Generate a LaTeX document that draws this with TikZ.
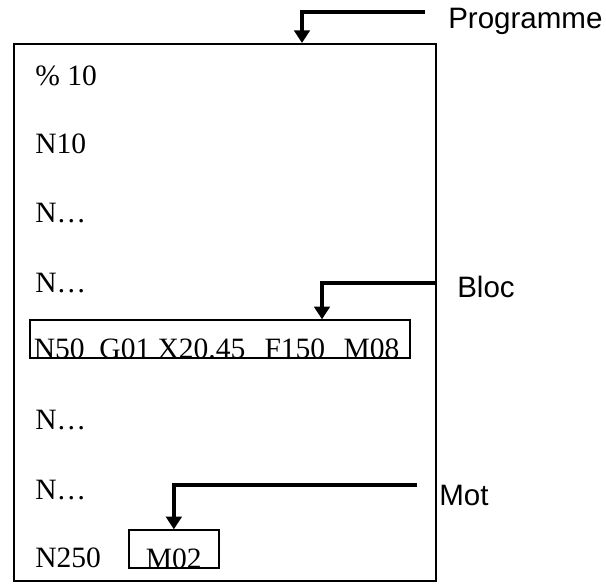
\documentclass[tikz,border=0pt]{standalone}
\usepackage{fontspec}
\setmainfont{Liberation Serif}
\newfontfamily\arial{Liberation Sans}
\usetikzlibrary{arrows.meta}
\begin{document}
\begin{tikzpicture}
\tikzstyle{line}=[anchor=base west,inner sep=0pt,font=\fontsize{21}{25}\selectfont]
\tikzstyle{lbox}=[draw,line width=1.2pt,inner xsep=0.1cm,inner ysep=0pt,text height=0.95cm,text depth=0pt,font=\fontsize{21}{25}\selectfont]
\tikzstyle{tag}=[anchor=base west,inner sep=0pt,font=\arial\fontsize{21}{25}\selectfont]
\tikzstyle{flow}=[line width=2.8pt,-{Triangle[length=9pt,width=11pt]}]
\useasboundingbox (0,0) rectangle (15.15,-14.6);

% Programme
\node[draw,line width=1.2pt,minimum width=10.55cm,minimum height=13.425cm,inner sep=0pt,anchor=north west] (prog) at (0.325,-1.075) {};

\foreach \i/\y/\txt in {1/-2.125/{\% 10},2/-3.825/{N10},3/-5.55/{N\ldots},4/-7.3/{N\ldots},
                        6/-10.725/{N\ldots},7/-12.475/{N\ldots},8/-14.175/{N250}} {
  \node[line] (l\i) at (0.875,\y) {\txt};
}

% Bloc
\node[lbox,anchor=south west] (blk) at (0.725,-8.975)
  {\makebox[9.3cm][l]{N50\hspace{.5em}G01 X20.45\hspace{.65em}F150\hspace{.62em}M08}};

% Mot
\node[lbox,minimum width=2.25cm,anchor=south west] (mot) at (3.2,-14.225) {M02};

% labels
\node[tag] (tprog) at (11.2,-0.7) {Programme};
\node[tag] (tblk) at (11.425,-7.425) {Bloc};
\node[tag] (tmot) at (10.975,-12.625) {Mot};

% arrows
\coordinate (ptail) at (10.625,-0.3);
\coordinate (pbend) at (7.55,-0.3);
\draw[flow] (ptail) -- (pbend) -- (pbend |- prog.north);

\coordinate (btail) at (10.875,-7.075);
\coordinate (bbend) at (8.05,-7.075);
\draw[flow] (btail) -- (bbend) -- (bbend |- blk.north);

\coordinate (mtail) at (10.425,-12.125);
\draw[flow] (mtail) -| (mot.north);
\end{tikzpicture}
\end{document}
